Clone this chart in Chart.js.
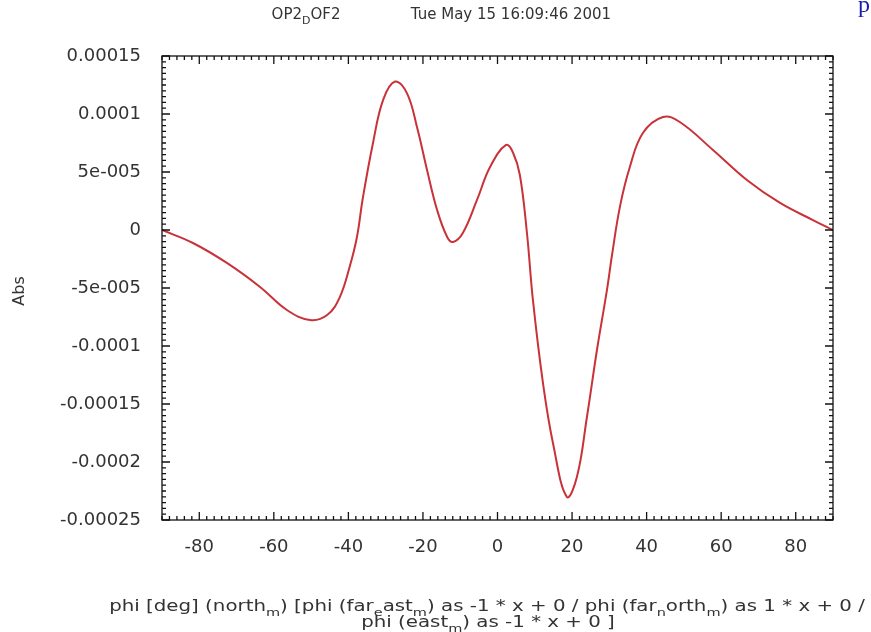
<!DOCTYPE html>
<html>
<head>
<meta charset="utf-8">
<script src="https://cdn.jsdelivr.net/npm/chart.js@4.4.0/dist/chart.umd.min.js"></script>
<style>
  body { margin: 0; background: #fff; }
  #wrap { width: 871px; height: 632px; }
</style>
</head>
<body>
<div id="wrap"><canvas id="absChart" width="871" height="632"></canvas></div>
<script>
// datos
const phiDeg = [-90, -81.7, -72.6, -63.7, -56.5, -50.3, -45.7, -42.3, -39.6, -37.7, -36.1, -33.4, -30.7,
  -27.5, -24.3, -21.6, -18.9, -16.2, -13.5, -11.9, -9.3, -5.5, -2.0, 2.3, 4.2, 6.0, 7.9, 9.5, 12.2,
  14.9, 18.6, 21.3, 24.0, 26.7, 29.4, 30.7, 32.9, 35.5, 39.0, 44.4, 48.9, 57.8, 66.9, 75.8, 84.6, 90];
const absVals = [0, -1.12e-5, -2.84e-5, -4.91e-5, -6.90e-5, -7.76e-5, -7.33e-5, -5.78e-5, -3.10e-5, -0.60e-5,
  2.80e-5, 7.50e-5, 11.2e-5, 12.8e-5, 11.8e-5, 8.88e-5, 5.17e-5, 1.72e-5, -0.60e-5, -1.03e-5, -0.26e-5,
  2.59e-5, 5.43e-5, 7.33e-5, 6.64e-5, 4.74e-5, -0.26e-5, -6.03e-5, -13.2e-5, -18.4e-5, -23.0e-5, -21.3e-5,
  -16.1e-5, -10.3e-5, -5.10e-5, -2.20e-5, 2.10e-5, 5.43e-5, 8.36e-5, 9.74e-5, 9.31e-5, 6.90e-5, 4.31e-5,
  2.33e-5, 0.86e-5, 0];

const xTicks = [-80, -60, -40, -20, 0, 20, 40, 60, 80];
const xTickLabels = ['-80', '-60', '-40', '-20', '0', '20', '40', '60', '80'];
const yTicks = [-0.00025, -0.0002, -0.00015, -0.0001, -0.00005, 0, 0.00005, 0.0001, 0.00015];
const yTickLabels = ['-0.00025', '-0.0002', '-0.00015', '-0.0001', '-5e-005', '0', '5e-005', '0.0001', '0.00015'];

const titleParts = [{ t: 'OP2' }, { t: 'D', sub: true }, { t: 'OF2' }];
const dateText = 'Tue May 15 16:09:46 2001';
const yTitle = 'Abs';
const xTitle1 = [{ t: 'phi [deg] (north' }, { t: 'm', sub: true }, { t: ') [phi (far' }, { t: 'e', sub: true },
  { t: 'ast' }, { t: 'm', sub: true }, { t: ') as -1 * x + 0 / phi (far' }, { t: 'n', sub: true },
  { t: 'orth' }, { t: 'm', sub: true }, { t: ') as 1 * x + 0 /' }];
const xTitle2 = [{ t: 'phi (east' }, { t: 'm', sub: true }, { t: ') as -1 * x + 0 ]' }];

const FONT = '"DejaVu Sans", sans-serif';
const TXT = '#333';

// texto con subindices, hs = estiramiento horizontal
function drawRich(ctx, parts, cx, y, size, hs) {
  const subSize = Math.round(size * 0.72);
  let w = 0;
  parts.forEach(p => {
    ctx.font = (p.sub ? subSize : size) + 'px ' + FONT;
    w += ctx.measureText(p.t).width;
  });
  ctx.save();
  ctx.translate(cx, y);
  ctx.scale(hs || 1, 1);
  let x = -w / 2;
  ctx.textAlign = 'left';
  ctx.textBaseline = 'alphabetic';
  parts.forEach(p => {
    ctx.font = (p.sub ? subSize : size) + 'px ' + FONT;
    ctx.fillText(p.t, x, p.sub ? size * 0.3 : 0);
    x += ctx.measureText(p.t).width;
  });
  ctx.restore();
}

// marco, marcas y textos al estilo gnuplot
const gnuplotFrame = {
  id: 'gnuplotFrame',
  afterDraw(chart) {
    const ctx = chart.ctx;
    const a = chart.chartArea;
    const xs = chart.scales.x, ys = chart.scales.y;
    ctx.save();
    ctx.strokeStyle = '#111';
    ctx.lineWidth = 1.3;
    ctx.strokeRect(a.left, a.top, a.right - a.left, a.bottom - a.top);
    ctx.beginPath();
    for (let v = -90; v <= 90; v += 2) {
      const px = xs.getPixelForValue(v);
      const len = v % 20 === 0 ? 8 : 4;
      ctx.moveTo(px, a.bottom); ctx.lineTo(px, a.bottom - len);
      ctx.moveTo(px, a.top); ctx.lineTo(px, a.top + len);
    }
    for (let i = -50; i <= 30; i++) {
      const py = ys.getPixelForValue(i * 5e-6);
      const len = i % 10 === 0 ? 8 : 4;
      ctx.moveTo(a.left, py); ctx.lineTo(a.left + len, py);
      ctx.moveTo(a.right, py); ctx.lineTo(a.right - len, py);
    }
    ctx.stroke();

    ctx.fillStyle = TXT;
    drawRich(ctx, titleParts, 306, 19, 15);
    ctx.font = '15px ' + FONT;
    ctx.textAlign = 'center';
    ctx.fillText(dateText, 511, 19);
    drawRich(ctx, xTitle1, 487, 611, 15, 1.32);
    drawRich(ctx, xTitle2, 488, 627, 15, 1.32);

    ctx.translate(24, 291);
    ctx.rotate(-Math.PI / 2);
    ctx.font = '16px ' + FONT;
    ctx.textAlign = 'center';
    ctx.fillText(yTitle, 0, 0);
    ctx.restore();

    ctx.save();
    ctx.fillStyle = '#1a1ab0';
    ctx.font = '24px "Liberation Serif", serif';
    ctx.textAlign = 'left';
    ctx.fillText('p', 858, 12);
    ctx.restore();
  }
};

new Chart(document.getElementById('absChart'), {
  type: 'scatter',
  data: {
    datasets: [{
      data: phiDeg.map((x, i) => ({ x: x, y: absVals[i] })),
      showLine: true,
      borderColor: '#c83238',
      borderWidth: 2,
      pointRadius: 0,
      tension: 0.4,
      fill: false
    }]
  },
  options: {
    responsive: false,
    animation: false,
    layout: { padding: { left: 0, right: 38, top: 56, bottom: 0 } },
    plugins: { legend: { display: false }, tooltip: { enabled: false } },
    scales: {
      x: {
        type: 'linear',
        min: -90,
        max: 90,
        grid: { display: false },
        border: { display: false },
        afterBuildTicks: s => { s.ticks = xTicks.map(v => ({ value: v })); },
        afterFit: s => { s.height = 112; },
        ticks: {
          padding: 9,
          color: TXT,
          font: { family: FONT, size: 18 },
          callback: v => xTickLabels[xTicks.indexOf(v)]
        }
      },
      y: {
        type: 'linear',
        min: -0.00025,
        max: 0.00015,
        grid: { display: false },
        border: { display: false },
        afterBuildTicks: s => { s.ticks = yTicks.map(v => ({ value: v })); },
        afterFit: s => { s.width = 162; },
        ticks: {
          padding: 13,
          color: TXT,
          font: { family: FONT, size: 18 },
          callback: v => yTickLabels[yTicks.findIndex(t => Math.abs(t - v) < 1e-12)]
        }
      }
    }
  },
  plugins: [gnuplotFrame]
});
</script>
</body>
</html>
